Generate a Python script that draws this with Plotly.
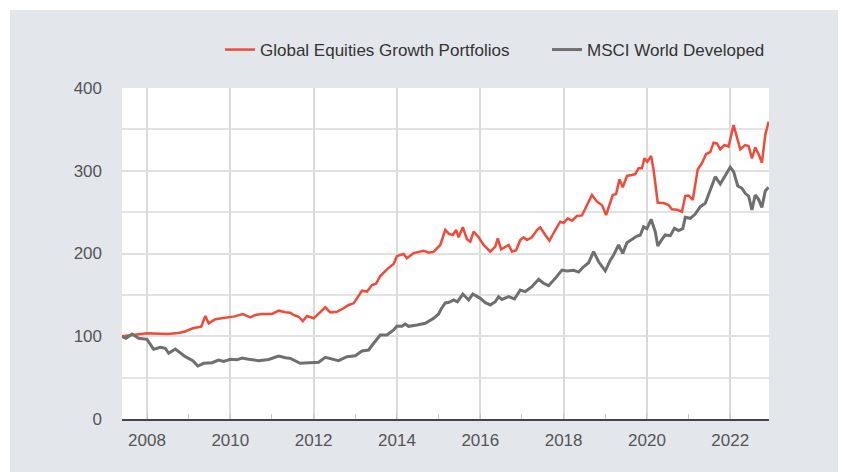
import plotly.graph_objects as go

# ---- data (decimal years, index values) ----
growth_t = [2007.4, 2007.7, 2008.0, 2008.3, 2008.5, 2008.75, 2008.9, 2009.1, 2009.3, 2009.4, 2009.48,
            2009.64, 2009.95, 2010.1, 2010.3, 2010.48, 2010.6, 2010.76, 2011.0, 2011.16, 2011.32, 2011.44,
            2011.52, 2011.64, 2011.74, 2011.84, 2012.0, 2012.16, 2012.28, 2012.4, 2012.56, 2012.72, 2012.84,
            2012.96, 2013.16, 2013.28, 2013.4, 2013.5, 2013.6, 2013.76, 2013.92, 2014.0, 2014.16, 2014.24,
            2014.4, 2014.64, 2014.76, 2014.88, 2015.04, 2015.16, 2015.25, 2015.34, 2015.42, 2015.48, 2015.58,
            2015.68, 2015.76, 2015.84, 2015.96, 2016.08, 2016.24, 2016.36, 2016.42, 2016.5, 2016.6, 2016.68,
            2016.76, 2016.86, 2016.96, 2017.04, 2017.12, 2017.24, 2017.36, 2017.44, 2017.56, 2017.66, 2017.8,
            2017.92, 2018.0, 2018.1, 2018.2, 2018.32, 2018.44, 2018.56, 2018.68, 2018.8, 2018.92, 2019.02,
            2019.1, 2019.18, 2019.26, 2019.34, 2019.42, 2019.52, 2019.64, 2019.72, 2019.8, 2019.88, 2019.94,
            2020.01, 2020.1, 2020.16, 2020.26, 2020.4, 2020.52, 2020.6, 2020.72, 2020.84, 2020.92, 2021.0,
            2021.1, 2021.22, 2021.32, 2021.42, 2021.52, 2021.6, 2021.68, 2021.76, 2021.86, 2021.96, 2022.08,
            2022.24, 2022.36, 2022.44, 2022.52, 2022.6, 2022.68, 2022.76, 2022.84, 2022.92]
growth_v = [100, 102, 103.5, 103, 102.7, 104, 105.5, 109.6, 111.5, 124.5, 115.6,
            120.5, 122.9, 124, 126.9, 122.9, 125.6, 126.9, 127, 130.9, 129, 128.5,
            125.7, 123.6, 118.4, 124.5, 121.7, 129.7, 135, 128.9, 129.5, 133.8, 137.8,
            139.8, 155, 154, 162, 163.6, 172.8, 180.9, 187.3, 197, 199.4, 194.2,
            200.5, 203.4, 201, 202, 210.3, 228.4, 223.6, 222.3, 228.4, 219.6, 231.7,
            217.2, 214.3, 226.4, 219.6, 210.3, 202.2, 208.3, 218.4, 205, 207.4, 210.3,
            202.2, 204, 216.3, 219.6, 216.3, 219.6, 228.4, 231.7, 222.4, 215.5, 228.4,
            238.4, 237, 242.5, 239.6, 245.3, 246, 257.4, 270.7, 262.6, 258.6, 246.5,
            258, 270.7, 271.9, 289.6, 280, 293.7, 294.9, 296, 303, 303, 315,
            311, 317.8, 300.9, 261.4, 261, 258.6, 253.4, 253, 250.5, 269.5, 270,
            264.7, 301.7, 309, 320.2, 322.6, 333.9, 333, 325.9, 331.1, 329.3, 355.3,
            325.9, 331, 330, 315, 328.3, 320.2, 309.7, 343.2, 359.3]

msci_t = [2007.4, 2007.5, 2007.64, 2007.8, 2008.0, 2008.16, 2008.32, 2008.44, 2008.52, 2008.68, 2008.92,
          2009.1, 2009.22, 2009.36, 2009.56, 2009.72, 2009.84, 2010.0, 2010.16, 2010.28, 2010.44, 2010.68,
          2010.92, 2011.16, 2011.32, 2011.44, 2011.68, 2012.0, 2012.12, 2012.28, 2012.4, 2012.6, 2012.8,
          2013.0, 2013.16, 2013.32, 2013.44, 2013.6, 2013.76, 2013.92, 2014.0, 2014.12, 2014.2, 2014.28,
          2014.48, 2014.68, 2014.88, 2015.0, 2015.06, 2015.16, 2015.25, 2015.36, 2015.45, 2015.58, 2015.72,
          2015.82, 2016.0, 2016.12, 2016.24, 2016.36, 2016.44, 2016.52, 2016.68, 2016.82, 2016.96, 2017.08,
          2017.24, 2017.4, 2017.52, 2017.64, 2017.8, 2017.96, 2018.08, 2018.24, 2018.36, 2018.48, 2018.6,
          2018.72, 2018.84, 2019.0, 2019.12, 2019.2, 2019.32, 2019.42, 2019.52, 2019.64, 2019.76, 2019.84,
          2019.92, 2020.0, 2020.1, 2020.2, 2020.26, 2020.36, 2020.44, 2020.56, 2020.66, 2020.76, 2020.86,
          2020.92, 2021.04, 2021.16, 2021.28, 2021.4, 2021.52, 2021.64, 2021.76, 2021.88, 2022.0, 2022.08,
          2022.18, 2022.28, 2022.36, 2022.44, 2022.52, 2022.6, 2022.68, 2022.76, 2022.84, 2022.92]
msci_v = [99.5, 97.5, 102.7, 97.5, 96.3, 84.2, 86.6, 85.5, 79.4, 84.6, 75.3,
          70.5, 64, 67.3, 68, 71.3, 69.6, 72.1, 71.5, 73.7, 72.1, 70.5,
          72, 76.1, 74, 73.3, 67.3, 67.7, 68.5, 74.5, 73, 70.5, 75.3,
          76.5, 82.2, 83.4, 91.5, 101.5, 101.5, 107.6, 112.4, 112, 114.8, 112,
          113.6, 115.6, 121.7, 126.9, 133, 140.2, 141, 143.8, 141.5, 151, 143.8,
          151, 145.8, 140.6, 137.8, 141.8, 147.8, 144.5, 147.8, 145, 155.9, 154,
          159.9, 168.8, 164, 161.1, 170, 180, 178.8, 179.6, 177.5, 184, 188.9,
          202.2, 190, 179, 192, 198.2, 210.3, 200.2, 213, 217, 221.1, 222,
          232.4, 230, 241.3, 226.4, 209, 217, 222.4, 221.5, 230.4, 227.6, 230,
          243.7, 242.5, 247.7, 256.6, 260.6, 276.7, 292.8, 284, 293.7, 304.2, 299,
          281.6, 278.8, 272.7, 269.5, 252.6, 270.7, 265.5, 255.8, 275.5, 280]

series_names = ["Global Equities Growth Portfolios", "MSCI World Developed"]
year_ticks = [2008, 2010, 2012, 2014, 2016, 2018, 2020, 2022]
value_ticks = [0, 100, 200, 300, 400]

W, H = 900, 464
ML, MR, MT, MB = 114, 139, 80, 53
BG = "#e3e7eb"

fig = go.Figure()
fig.add_trace(go.Scatter(x=growth_t, y=growth_v, mode="lines", name=series_names[0],
                         line=dict(color="#f04a3a", width=2.5), legend="legend"))
fig.add_trace(go.Scatter(x=msci_t, y=msci_v, mode="lines", name=series_names[1],
                         line=dict(color="#6f6f6f", width=3), legend="legend2"))

pw = W - ML - MR
ph = H - MT - MB
# thin white strips along the top and left edge
fig.add_shape(type="rect", xref="paper", yref="paper", layer="below",
              x0=-ML / pw, x1=(W - ML) / pw, y0=(H - MB - 2) / ph, y1=(H - MB) / ph,
              fillcolor="white", line_width=0)
fig.add_shape(type="rect", xref="paper", yref="paper", layer="below",
              x0=-ML / pw, x1=(2 - ML) / pw, y0=-MB / ph, y1=(H - MB) / ph,
              fillcolor="white", line_width=0)

leg_common = dict(orientation="h", xanchor="left", yanchor="middle", y=(H - MB - 42) / ph,
                  font=dict(size=17, color="#333333"), bgcolor="rgba(0,0,0,0)")
fig.update_layout(
    width=W, height=H,
    margin=dict(l=ML, r=MR, t=MT, b=MB),
    paper_bgcolor=BG, plot_bgcolor="white",
    font=dict(family="Liberation Sans, Arial, sans-serif", size=17, color="#555555"),
    showlegend=True,
    legend=dict(x=(212 - ML) / pw, **leg_common),
    legend2=dict(x=(539 - ML) / pw, **leg_common),
)
fig.update_xaxes(range=[2007.4, 2022.93], tickvals=year_ticks, ticktext=[str(y) for y in year_ticks],
                 showgrid=True, gridcolor="#dadada", gridwidth=1.5,
                 showline=True, linecolor="#444444", linewidth=1.5,
                 ticks="", ticklabelstandoff=5, zeroline=False,
                 minor=dict(dtick=1, tick0=2007, ticks="inside", ticklen=5, tickcolor="#c8c8c8",
                            showgrid=False))
fig.update_yaxes(range=[0, 400], tickvals=value_ticks, showgrid=True, gridcolor="#e0e0e0", gridwidth=1.5,
                 zeroline=False, showline=False, ticks="", ticklabelstandoff=19,
                 minor=dict(dtick=50, tick0=0, showgrid=True, gridcolor="#e3e3e3", gridwidth=1.5))

fig.write_html("out.html")
